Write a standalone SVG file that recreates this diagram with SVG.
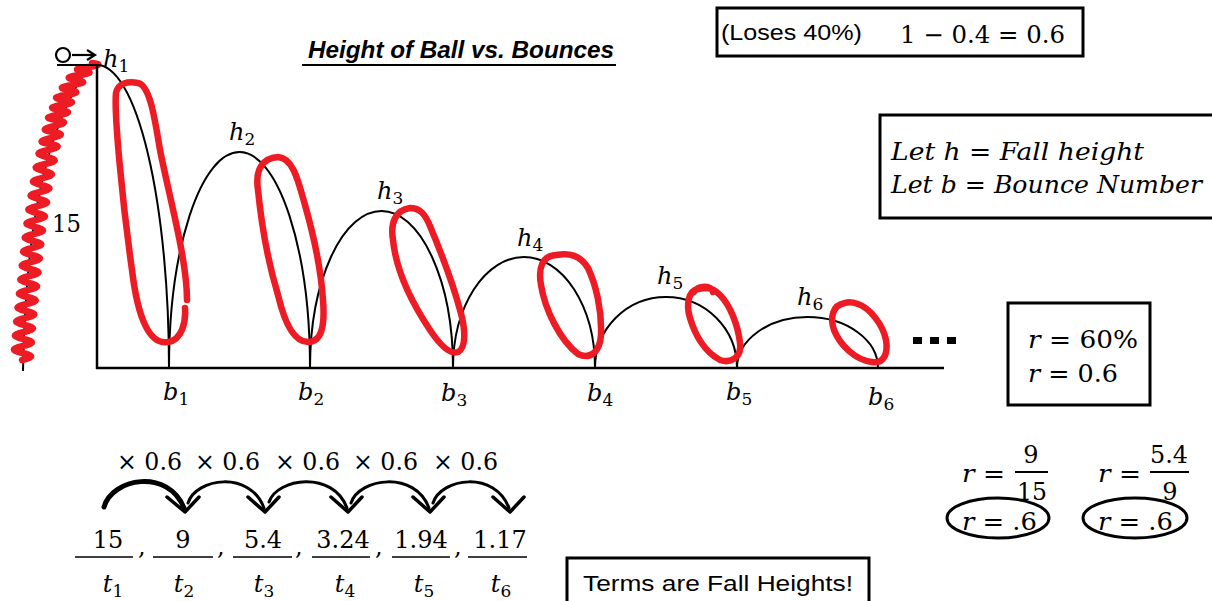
<svg xmlns="http://www.w3.org/2000/svg" width="1212" height="601" viewBox="0 0 1212 601">
<style>
.ax{stroke:#000;stroke-width:2.5;fill:none}
.arc{stroke:#000;stroke-width:2;fill:none}
.red{stroke:#ED1C24;stroke-width:6.5;fill:none;stroke-linecap:round;stroke-linejoin:round}
.m{font-family:"DejaVu Serif","Liberation Serif",serif;font-size:24px;fill:#000}
.i{font-style:italic}
.sub{font-size:17px}
.box{fill:none;stroke:#000;stroke-width:3}
.sans{font-family:"Liberation Sans",Arial,sans-serif;fill:#000}
.curl{stroke:#000;fill:none;stroke-linecap:round}
.head{stroke:#000;stroke-width:3.5;fill:none;stroke-linecap:round;stroke-linejoin:round}
</style>
<rect width="1212" height="601" fill="#fff"/>

<g id="title">
<text class="sans" x="308" y="58" font-size="23" font-weight="bold" font-style="italic" textLength="306" lengthAdjust="spacingAndGlyphs">Height of Ball vs. Bounces</text>
<line x1="302" y1="65" x2="616" y2="65" stroke="#000" stroke-width="2"/>
</g>

<g id="throw">
<path class="arc" d="M23,371 C25,250 40,130 92,63"/>
<path class="red" d="M22,360 Q40,356.5 22.5,353 T22.9,346 T23.4,339 T23.9,332 T24.5,325 T25.2,318 T25.9,311 T26.6,304 T27.3,297 T28,290 T28.7,283 T29.4,276 T30.1,269 T30.8,262 T31.5,255 T32.2,248 T33,241 T33.8,234 T34.7,227 T35.7,220 T36.6,213 T37.7,206 T38.8,199 T40,192 T41.2,185 T42.4,178 T43.8,171 T45.2,164 T46.6,157 T48,150 T49.6,144 T51.2,138 T52.8,132 T54.4,126 T56,120 T58,115 T60,110 T62,105 T64,100 T66,95 T69,90 T72.5,85 T76,80 T79,75 T83.3,71 T87.7,67 T92,63"/>
</g>

<g id="ball">
<circle cx="63" cy="55" r="7" fill="none" stroke="#000" stroke-width="2.2"/>
<line x1="57" y1="65" x2="98" y2="65" stroke="#000" stroke-width="2.2"/>
<line x1="72" y1="55" x2="93" y2="55" stroke="#000" stroke-width="2.2"/>
<path d="M87,50 L95,55 L87,60" fill="none" stroke="#000" stroke-width="2.2"/>
</g>

<g id="axes">
<line class="ax" x1="97" y1="64" x2="97" y2="369"/>
<line class="ax" x1="96" y1="368" x2="944" y2="368"/>
</g>

<g id="bounces">
<path class="arc" d="M97,65 A72,303 0 0 1 169,368"/>
<path class="arc" d="M169,368 A70.5,216 0 0 1 310,368"/>
<path class="arc" d="M310,368 A71.5,157 0 0 1 453,368"/>
<path class="arc" d="M453,368 A71,111 0 0 1 595,368"/>
<path class="arc" d="M595,368 A71,71 0 0 1 737,368"/>
<path class="arc" d="M737,368 A70.5,51 0 0 1 878,368"/>
</g>

<g id="red-loops">
<path class="red" d="M187,300 C187,260 170,200 160,150 C155,120 150,85 138,83 C128,81 118,83 116,93 C114,112 122,200 132,270 C138,320 150,345 168,342 C182,340 186,322 185,308"/>
<path class="red" d="M278,157 C262,158 255,170 258,190 C262,230 268,262 278,295 C285,325 295,342 308,342 C322,342 325,325 323,300 C321,270 315,240 305,205 C298,180 293,158 278,157 Z"/>
<path class="red" d="M410,208 C396,210 390,222 393,240 C396,270 410,300 430,330 C440,345 450,355 458,352 C466,348 466,330 460,310 C452,280 440,250 430,226 C425,214 420,208 410,208 Z"/>
<path class="red" d="M556,255 C542,256 538,268 541,285 C545,310 560,340 578,354 C590,360 600,352 601,335 C602,310 596,285 588,268 C580,255 570,253 556,255 Z"/>
<path class="red" d="M698,289 C688,291 686,305 690,318 C695,335 705,352 720,360 C732,364 742,356 740,343 C738,325 730,305 720,295 C715,290 712,288 704,288 Z M694,292 C698,285 712,285 713,292"/>
<path class="red" d="M845,303 C832,305 830,318 834,330 C840,345 855,360 872,362 C885,364 888,352 886,340 C883,325 870,308 858,304 C852,302 848,302 845,303 Z"/>
</g>

<g id="chart-labels">
<text class="m" x="52" y="232" textLength="29" lengthAdjust="spacingAndGlyphs">15</text>
<text class="m" x="103" y="67"><tspan class="i">h</tspan><tspan class="sub" dy="5">1</tspan></text>
<text class="m" x="229" y="140"><tspan class="i">h</tspan><tspan class="sub" dy="5">2</tspan></text>
<text class="m" x="377" y="199"><tspan class="i">h</tspan><tspan class="sub" dy="5">3</tspan></text>
<text class="m" x="517" y="246"><tspan class="i">h</tspan><tspan class="sub" dy="5">4</tspan></text>
<text class="m" x="657" y="284"><tspan class="i">h</tspan><tspan class="sub" dy="5">5</tspan></text>
<text class="m" x="797" y="305"><tspan class="i">h</tspan><tspan class="sub" dy="5">6</tspan></text>
<text class="m" x="163" y="400"><tspan class="i">b</tspan><tspan class="sub" dy="5">1</tspan></text>
<text class="m" x="298" y="400"><tspan class="i">b</tspan><tspan class="sub" dy="5">2</tspan></text>
<text class="m" x="441" y="401"><tspan class="i">b</tspan><tspan class="sub" dy="5">3</tspan></text>
<text class="m" x="587" y="401"><tspan class="i">b</tspan><tspan class="sub" dy="5">4</tspan></text>
<text class="m" x="726" y="400"><tspan class="i">b</tspan><tspan class="sub" dy="5">5</tspan></text>
<text class="m" x="868" y="405"><tspan class="i">b</tspan><tspan class="sub" dy="5">6</tspan></text>
</g>

<g id="ellipsis">
<rect x="913" y="337" width="9" height="7"/>
<rect x="930" y="337" width="9" height="7"/>
<rect x="947" y="337" width="9" height="7"/>
</g>

<g id="loses-box">
<rect class="box" x="717" y="8" width="366" height="48"/>
<text class="sans" x="721" y="40" font-size="22" textLength="141" lengthAdjust="spacingAndGlyphs">(Loses 40%)</text>
<text class="m" x="900" y="43" font-size="25" textLength="165" lengthAdjust="spacingAndGlyphs">1 − 0.4 = 0.6</text>
</g>

<g id="let-box">
<rect class="box" x="880" y="115" width="345" height="103"/>
<text class="m i" x="891" y="160" font-size="23" textLength="253" lengthAdjust="spacingAndGlyphs">Let h = Fall height</text>
<text class="m i" x="891" y="193" font-size="23" textLength="311" lengthAdjust="spacingAndGlyphs">Let b = Bounce Number</text>
</g>

<g id="r-box">
<rect class="box" x="1008" y="303" width="142" height="102"/>
<text class="m" x="1028" y="348" font-size="26" textLength="110" lengthAdjust="spacingAndGlyphs"><tspan class="i">r</tspan> = 60%</text>
<text class="m" x="1028" y="382" font-size="26" textLength="90" lengthAdjust="spacingAndGlyphs"><tspan class="i">r</tspan> = 0.6</text>
</g>

<g id="ratio-1">
<text class="m" x="962" y="482" font-size="25" textLength="43" lengthAdjust="spacingAndGlyphs"><tspan class="i">r</tspan> =</text>
<line x1="1015" y1="472" x2="1048" y2="472" stroke="#000" stroke-width="1.8"/>
<text class="m" x="1031" y="463" font-size="25" text-anchor="middle">9</text>
<text class="m" x="1032" y="500" font-size="25" text-anchor="middle" textLength="30" lengthAdjust="spacingAndGlyphs">15</text>
<text class="m" x="962" y="530" font-size="25" textLength="75" lengthAdjust="spacingAndGlyphs"><tspan class="i">r</tspan> = .6</text>
<ellipse cx="998" cy="518" rx="51" ry="20" fill="none" stroke="#000" stroke-width="3"/>
</g>

<g id="ratio-2">
<text class="m" x="1098" y="482" font-size="25" textLength="43" lengthAdjust="spacingAndGlyphs"><tspan class="i">r</tspan> =</text>
<line x1="1150" y1="472" x2="1189" y2="472" stroke="#000" stroke-width="1.8"/>
<text class="m" x="1169" y="463" font-size="25" text-anchor="middle" textLength="38" lengthAdjust="spacingAndGlyphs">5.4</text>
<text class="m" x="1170" y="500" font-size="25" text-anchor="middle">9</text>
<text class="m" x="1098" y="530" font-size="25" textLength="75" lengthAdjust="spacingAndGlyphs"><tspan class="i">r</tspan> = .6</text>
<ellipse cx="1135" cy="518" rx="52" ry="20" fill="none" stroke="#000" stroke-width="3"/>
</g>

<g id="multipliers">
<text class="m" x="117" y="470" textLength="65" lengthAdjust="spacingAndGlyphs">× 0.6</text>
<text class="m" x="195" y="470" textLength="65" lengthAdjust="spacingAndGlyphs">× 0.6</text>
<text class="m" x="275" y="470" textLength="65" lengthAdjust="spacingAndGlyphs">× 0.6</text>
<text class="m" x="353" y="470" textLength="65" lengthAdjust="spacingAndGlyphs">× 0.6</text>
<text class="m" x="433" y="470" textLength="65" lengthAdjust="spacingAndGlyphs">× 0.6</text>
</g>

<g id="connectors">
<path class="curl" stroke-width="5" d="M104,507 C112,478 168,468 184,508"/>
<path class="head" d="M167,497 L185,512 L199,497"/>
<path class="curl" stroke-width="3" d="M188,503 C196,478 250,470 264,508"/>
<path class="head" d="M248,497 L265,512 L279,497"/>
<path class="curl" stroke-width="3" d="M269,502 C277,478 333,470 347,508"/>
<path class="head" d="M331,497 L348,512 L362,497"/>
<path class="curl" stroke-width="3" d="M351,503 C359,478 415,470 429,508"/>
<path class="head" d="M413,497 L430,512 L444,497"/>
<path class="curl" stroke-width="3" d="M433,503 C441,478 495,470 509,508"/>
<path class="head" d="M493,497 L510,512 L524,497"/>
</g>

<g id="terms">
<g stroke="#000" stroke-width="1.5">
<line x1="75" y1="557" x2="133" y2="557"/>
<line x1="153" y1="557" x2="213" y2="557"/>
<line x1="233" y1="557" x2="292" y2="557"/>
<line x1="312" y1="557" x2="370" y2="557"/>
<line x1="392" y1="557" x2="450" y2="557"/>
<line x1="468" y1="557" x2="527" y2="557"/>
</g>
<text class="m" x="108" y="548" text-anchor="middle">15</text>
<text class="m" x="183" y="548" text-anchor="middle">9</text>
<text class="m" x="263" y="548" text-anchor="middle">5.4</text>
<text class="m" x="343" y="548" text-anchor="middle">3.24</text>
<text class="m" x="421" y="548" text-anchor="middle">1.94</text>
<text class="m" x="500" y="548" text-anchor="middle">1.17</text>
<text class="m" x="138" y="555">,</text>
<text class="m" x="217" y="555">,</text>
<text class="m" x="295" y="555">,</text>
<text class="m" x="375" y="555">,</text>
<text class="m" x="454" y="555">,</text>
<text class="m" x="113" y="592" text-anchor="middle"><tspan class="i">t</tspan><tspan class="sub" dy="5">1</tspan></text>
<text class="m" x="184" y="592" text-anchor="middle"><tspan class="i">t</tspan><tspan class="sub" dy="5">2</tspan></text>
<text class="m" x="264" y="592" text-anchor="middle"><tspan class="i">t</tspan><tspan class="sub" dy="5">3</tspan></text>
<text class="m" x="345" y="592" text-anchor="middle"><tspan class="i">t</tspan><tspan class="sub" dy="5">4</tspan></text>
<text class="m" x="424" y="592" text-anchor="middle"><tspan class="i">t</tspan><tspan class="sub" dy="5">5</tspan></text>
<text class="m" x="501" y="592" text-anchor="middle"><tspan class="i">t</tspan><tspan class="sub" dy="5">6</tspan></text>
</g>

<g id="terms-box">
<rect class="box" x="567" y="558" width="302" height="60"/>
<text class="sans" x="583" y="591" font-size="22" textLength="270" lengthAdjust="spacingAndGlyphs">Terms are Fall Heights!</text>
</g>
</svg>
